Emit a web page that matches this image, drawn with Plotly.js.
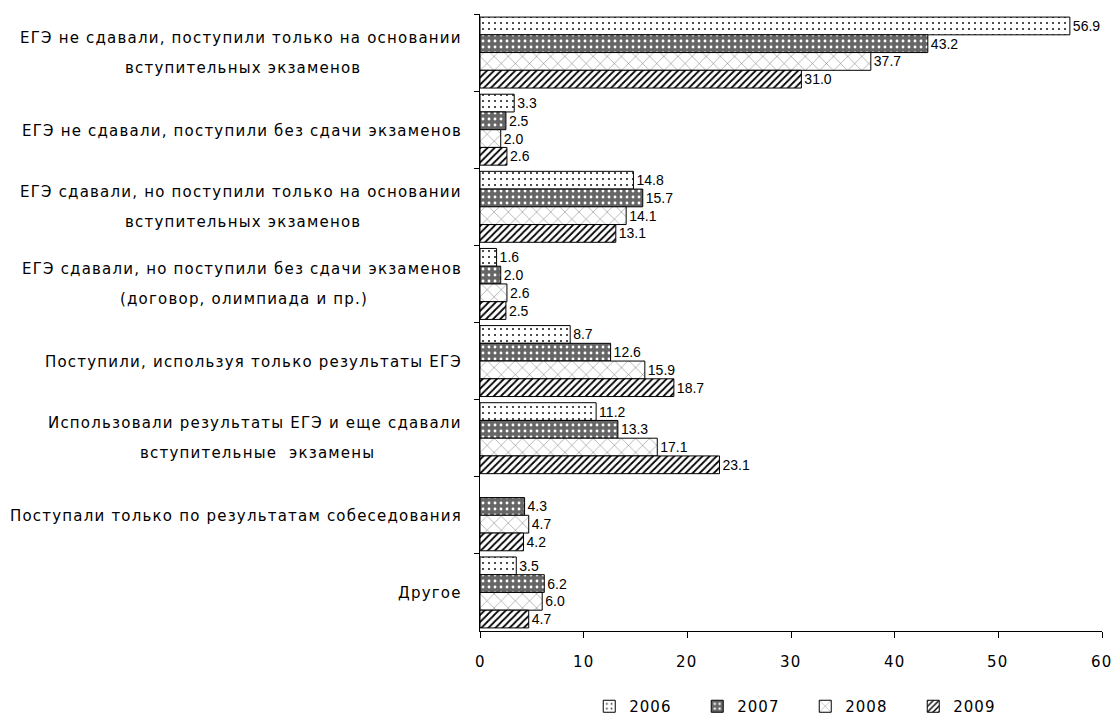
<!DOCTYPE html>
<html>
<head>
<meta charset="utf-8">
<script src="https://cdn.plot.ly/plotly-3.0.1.min.js"></script>
<style>
  html, body { margin: 0; padding: 0; background: #fff; }
  #chart { width: 1116px; height: 718px; }
  .annotation-text { letter-spacing: 1.2px; }
  .legendtext { letter-spacing: 1px; }
</style>
</head>
<body>
<div id="chart"></div>
<script>
// ---- data ----
const labelLines = [
  ["ЕГЭ не сдавали, поступили только на основании", "вступительных экзаменов"],
  ["ЕГЭ не сдавали, поступили без сдачи экзаменов"],
  ["ЕГЭ сдавали, но поступили только на основании", "вступительных экзаменов"],
  ["ЕГЭ сдавали, но поступили без сдачи экзаменов", "(договор, олимпиада и пр.)"],
  ["Поступили, используя только результаты ЕГЭ"],
  ["Использовали результаты ЕГЭ и еще сдавали", "вступительные  экзамены"],
  ["Поступали только по результатам собеседования"],
  ["Другое"]
];
const categories = labelLines.map(l => l.join(" "));
const years = ["2006", "2007", "2008", "2009"];
const v2006 = [56.9, 3.3, 14.8, 1.6, 8.7, 11.2, null, 3.5];
const v2007 = [43.2, 2.5, 15.7, 2.0, 12.6, 13.3, 4.3, 6.2];
const v2008 = [37.7, 2.0, 14.1, 2.6, 15.9, 17.1, 4.7, 6.0];
const v2009 = [31.0, 2.6, 13.1, 2.5, 18.7, 23.1, 4.2, 4.7];
const xTicks = [0, 10, 20, 30, 40, 50, 60];

// ---- styles ----
const patterns = [
  {shape: ".", bgcolor: "#ffffff", fgcolor: "#222222", size: 6, solidity: 0.1, fillmode: "replace"},
  {shape: ".", bgcolor: "#666666", fgcolor: "#ffffff", size: 6, solidity: 0.18, fillmode: "replace"},
  {shape: "x", bgcolor: "#ffffff", fgcolor: "#555555", size: 10, solidity: 0.08, fillmode: "replace"},
  {shape: "/", bgcolor: "#ffffff", fgcolor: "#000000", size: 5, solidity: 0.35, fillmode: "replace"}
];
const series = [v2006, v2007, v2008, v2009];

const traces = series.map((vals, i) => ({
  type: "bar",
  orientation: "h",
  name: years[i],
  y: categories,
  x: vals,
  text: vals.map(v => v == null ? "" : v.toFixed(1)),
  textposition: "outside",
  textfont: {family: "'Liberation Sans', Arial", size: 14, color: "#000"},
  constraintext: "none",
  cliponaxis: false,
  marker: {color: "#ffffff", pattern: patterns[i], line: {color: "#000", width: 1}},
  hoverinfo: "x+y"
}));

// ---- category labels as annotations (measured to center second lines) ----
const labelFont = {family: "DejaVu Sans", size: 15, color: "#000"};
const canvas = document.createElement("canvas");
const ctx = canvas.getContext("2d");
ctx.font = "15px 'DejaVu Sans'";
try { ctx.letterSpacing = "1.2px"; } catch (e) {}
const gap = 16;
const annotations = [];
labelLines.forEach((lines, i) => {
  if (lines.length === 1) {
    annotations.push({xref: "paper", yref: "y", x: 0, y: categories[i], xanchor: "right", yanchor: "middle",
      xshift: -gap, yshift: -1, text: lines[0], showarrow: false, font: labelFont});
  } else {
    const w1 = ctx.measureText(lines[0]).width;
    annotations.push({xref: "paper", yref: "y", x: 0, y: categories[i], xanchor: "right", yanchor: "middle",
      xshift: -gap, yshift: 15, text: lines[0], showarrow: false, font: labelFont});
    annotations.push({xref: "paper", yref: "y", x: 0, y: categories[i], xanchor: "center", yanchor: "middle",
      xshift: -gap - w1 / 2, yshift: -15, text: lines[1], showarrow: false, font: labelFont});
  }
});
// x tick labels
xTicks.forEach(t => {
  annotations.push({xref: "x", yref: "paper", x: t, y: 0, xanchor: "center", yanchor: "middle",
    yshift: -31, text: String(t), showarrow: false, font: {family: "DejaVu Sans", size: 15, color: "#000"}});
});

const layout = {
  width: 1116, height: 718,
  margin: {l: 480, r: 14, t: 14, b: 87},
  paper_bgcolor: "#fff", plot_bgcolor: "#fff",
  barmode: "group", bargap: 0.08, bargroupgap: 0,
  showlegend: true,
  legend: {orientation: "h", xref: "container", yref: "container", x: 0.528, y: 0.016, xanchor: "left", yanchor: "middle",
    font: {family: "DejaVu Sans", size: 15, color: "#000"}, traceorder: "normal",
    entrywidth: 63, entrywidthmode: "pixels", itemwidth: 30},
  xaxis: {
    range: [0, 60], tickvals: xTicks, showticklabels: false,
    showgrid: false, zeroline: false, showline: true, linecolor: "#000", linewidth: 1,
    ticks: "outside", ticklen: 6, tickcolor: "#000", fixedrange: true
  },
  yaxis: {
    type: "category", autorange: "reversed", showticklabels: false,
    showgrid: false, zeroline: false, showline: true, linecolor: "#000", linewidth: 1,
    ticks: "outside", tickson: "boundaries", ticklen: 5, tickcolor: "#000", fixedrange: true
  },
  annotations: annotations
};

Plotly.newPlot("chart", traces, layout, {displayModeBar: false, staticPlot: true});
</script>
</body>
</html>
